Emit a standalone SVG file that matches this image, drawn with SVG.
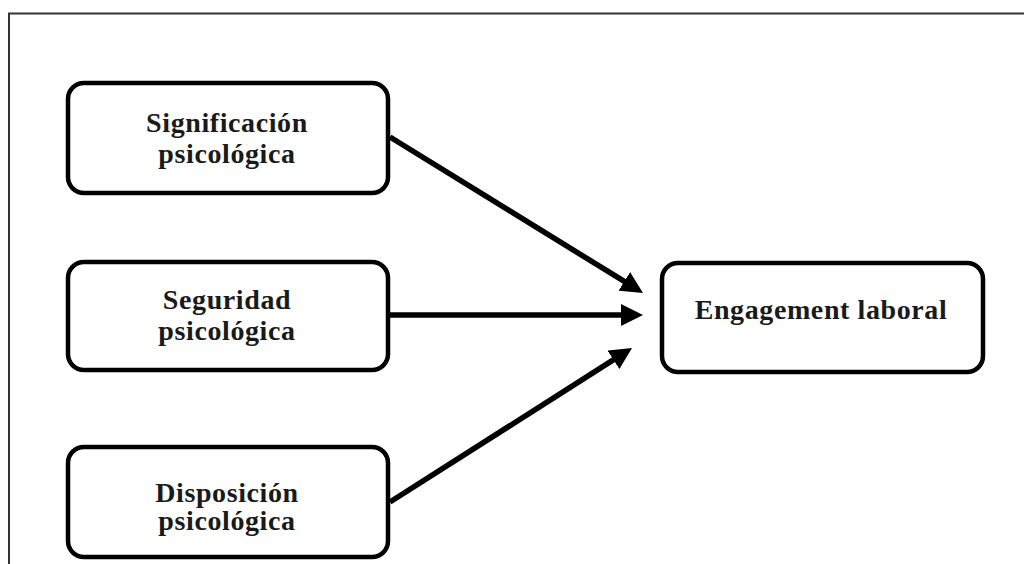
<svg xmlns="http://www.w3.org/2000/svg" width="1024" height="564" viewBox="0 0 1024 564">
<style>
.box{fill:#fff;stroke:#000;stroke-width:4.5}
.lbl{font-family:"Liberation Serif","Times New Roman",serif;font-weight:bold;font-size:28px;fill:#1a1a1a;text-anchor:middle;letter-spacing:0.6px}
.conn{stroke:#000;stroke-width:5.5;fill:none}
.frame{stroke:#333;stroke-width:2;fill:none}
</style>
<defs>
<marker id="ah" markerUnits="userSpaceOnUse" markerWidth="22" markerHeight="22" refX="10" refY="11" orient="auto">
<path d="M0,0 L22,11 L0,22 z" fill="#000"/>
</marker>
</defs>
<rect width="1024" height="564" fill="#fff"/>
<path class="frame" d="M9,564 V13.5 H1024"/>
<g id="node-significacion">
<rect class="box" x="68" y="83" width="320" height="110" rx="16"/>
<text class="lbl" x="227" y="132">Significación</text>
<text class="lbl" x="227" y="163">psicológica</text>
</g>
<g id="node-seguridad">
<rect class="box" x="68" y="262" width="320" height="108" rx="16"/>
<text class="lbl" x="227" y="309">Seguridad</text>
<text class="lbl" x="227" y="340">psicológica</text>
</g>
<g id="node-disposicion">
<rect class="box" x="68" y="447" width="320" height="110" rx="16"/>
<text class="lbl" x="227" y="502">Disposición</text>
<text class="lbl" x="227" y="530">psicológica</text>
</g>
<g id="node-engagement">
<rect class="box" x="662" y="263" width="321" height="109" rx="16"/>
<text class="lbl" x="821" y="319">Engagement laboral</text>
</g>
<g id="connectors">
<line class="conn" x1="390" y1="137" x2="632.8" y2="286.7" marker-end="url(#ah)"/>
<line class="conn" x1="390" y1="315" x2="631" y2="315" marker-end="url(#ah)"/>
<line class="conn" x1="390" y1="502" x2="621.9" y2="354.4" marker-end="url(#ah)"/>
</g>
</svg>
